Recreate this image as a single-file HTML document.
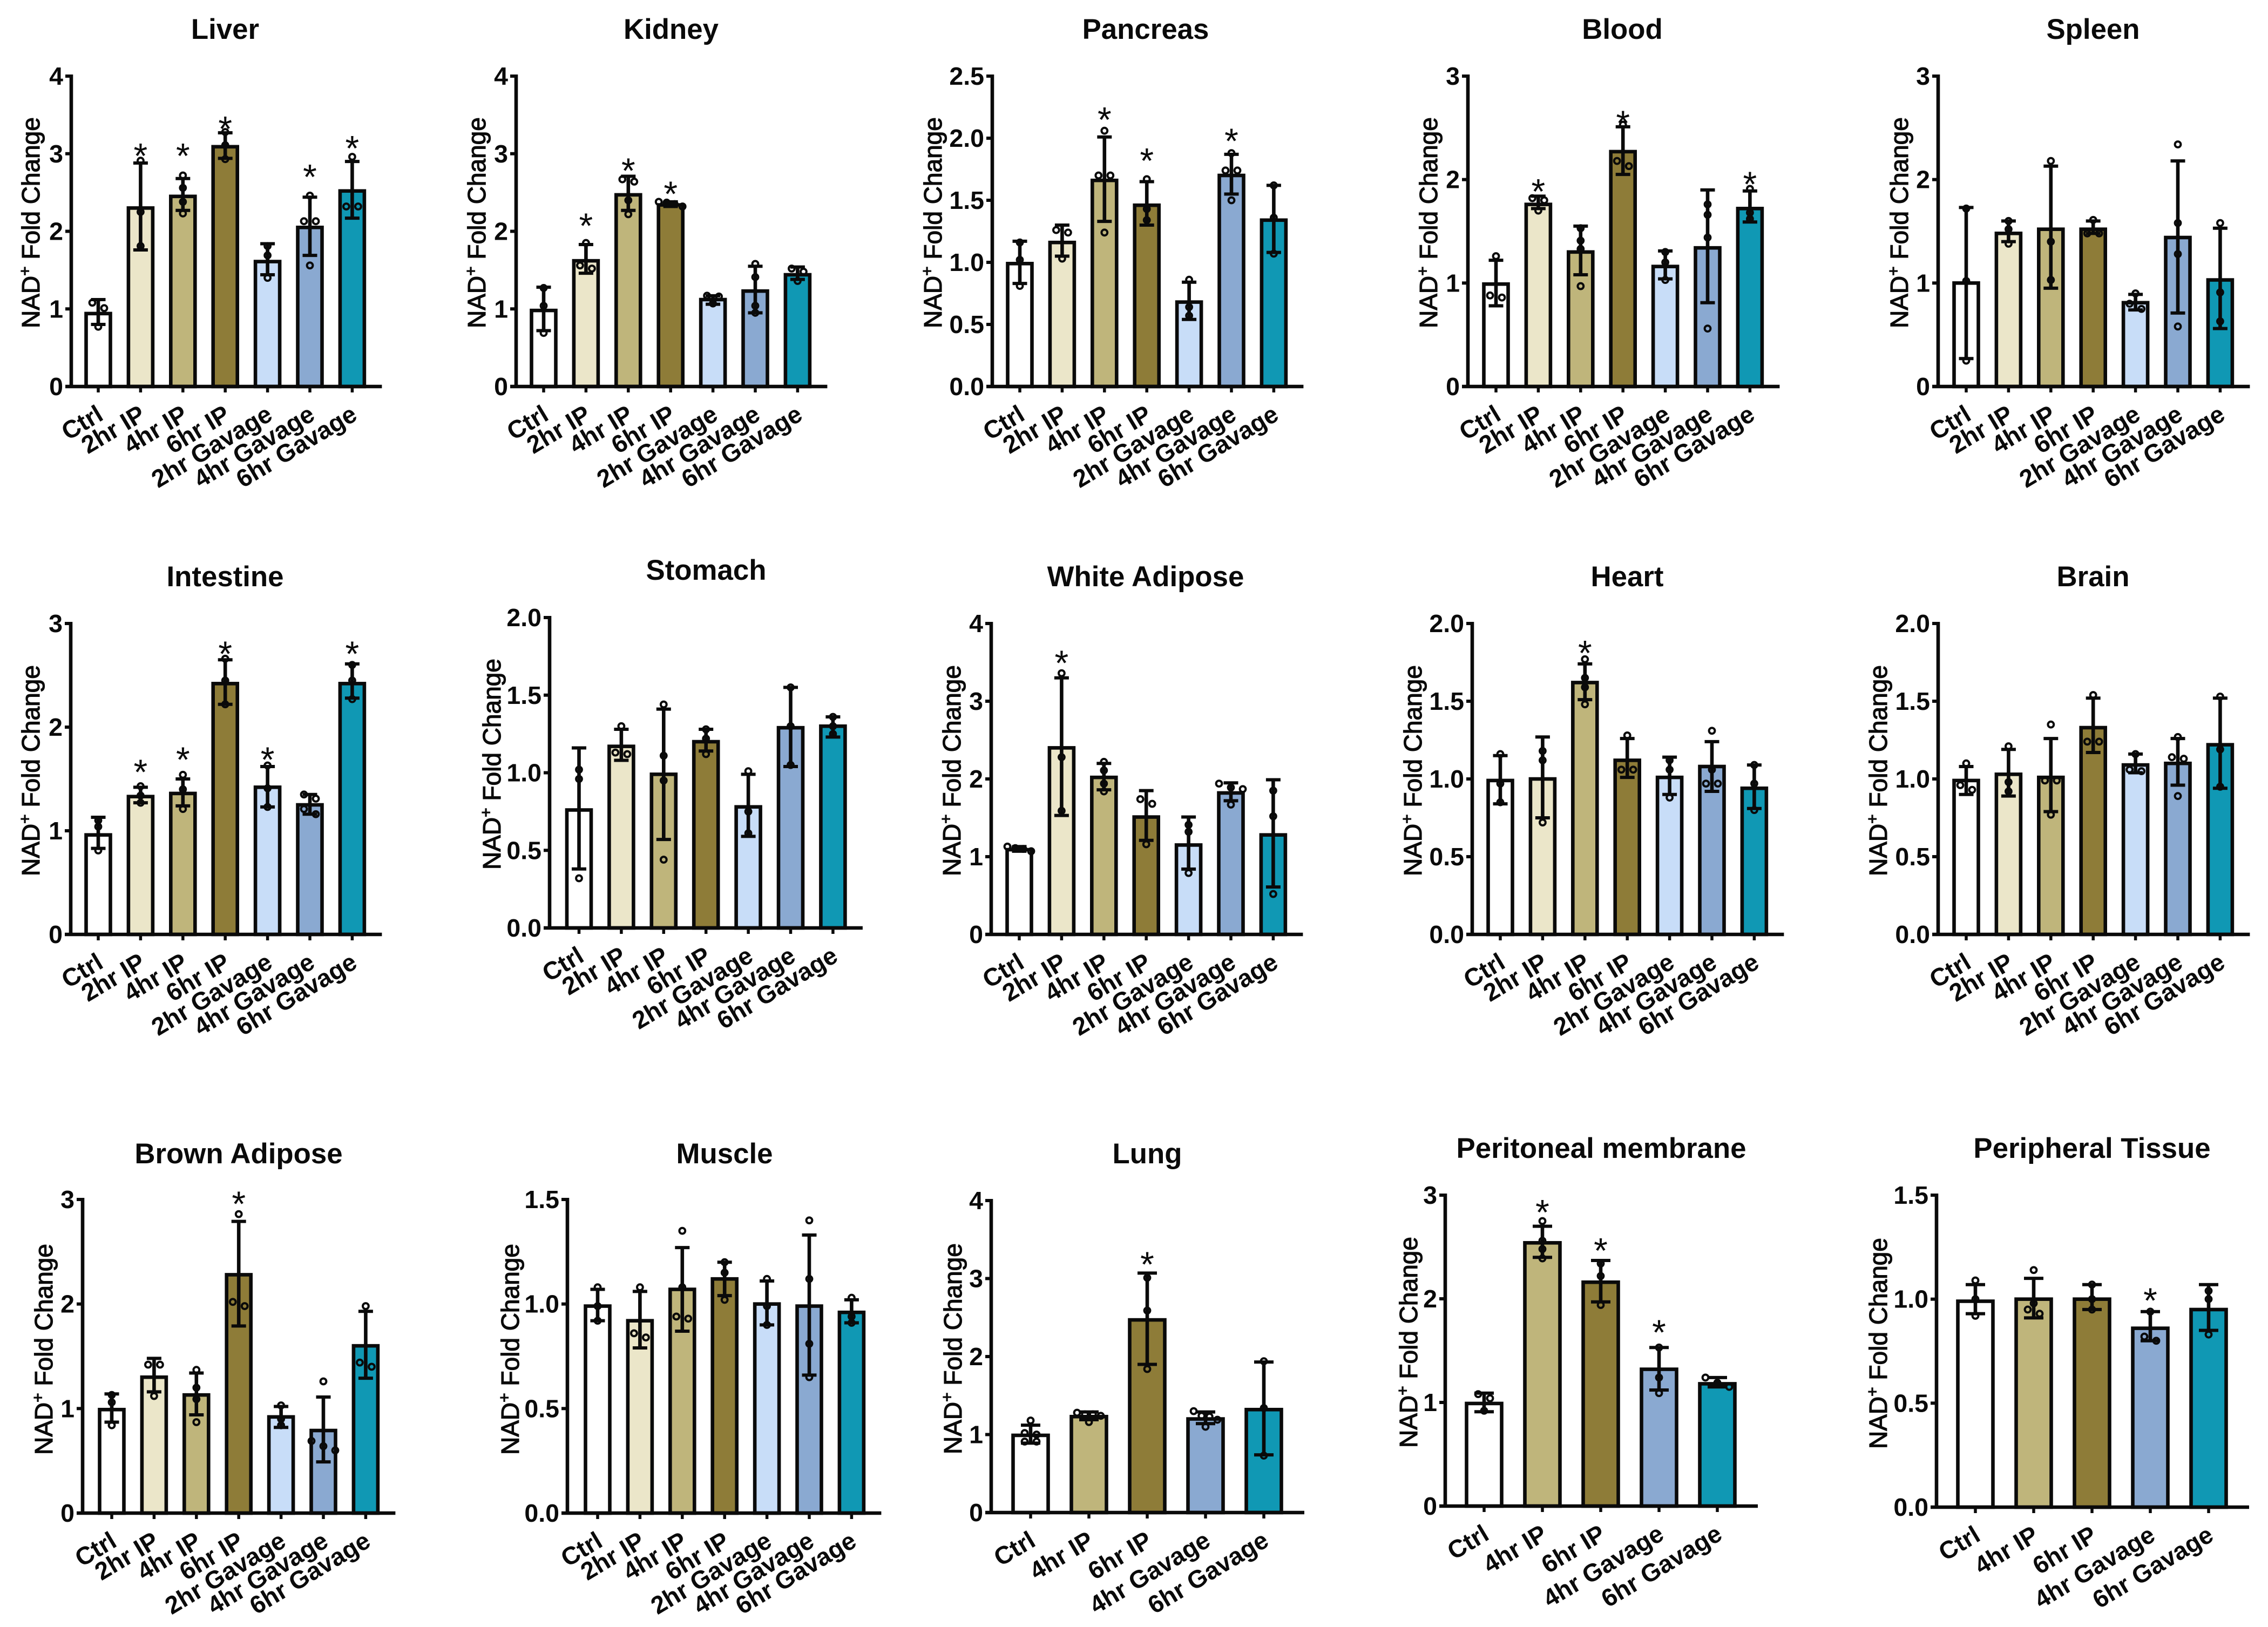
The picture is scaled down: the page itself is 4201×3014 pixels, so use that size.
<!DOCTYPE html>
<html lang="en">
<head>
<meta charset="utf-8">
<title>NAD+ Fold Change by Tissue</title>
<style>
html,body{margin:0;padding:0;background:#fff}
svg{display:block}
text{font-family:"Liberation Sans",Arial,sans-serif;fill:#0a0a0a}
</style>
</head>
<body>
<svg id="figure" xmlns="http://www.w3.org/2000/svg" width="4201" height="3014" viewBox="0 0 4201 3014"></svg>
<script>
// Categories and tick labels
const categoriesSeven = ['Ctrl','2hr IP','4hr IP','6hr IP','2hr Gavage','4hr Gavage','6hr Gavage'];
const categoriesFive = ['Ctrl','4hr IP','6hr IP','4hr Gavage','6hr Gavage'];
const ticksTo4 = ['0','1','2','3','4'];
const ticksTo3 = ['0','1','2','3'];
const ticksTo25 = ['0.0','0.5','1.0','1.5','2.0','2.5'];
const ticksTo2 = ['0.0','0.5','1.0','1.5','2.0'];
const ticksTo15 = ['0.0','0.5','1.0','1.5'];

// Liver
const liverMeans = [0.94,2.30,2.45,3.09,1.61,2.05,2.52];
const liverUpper = [1.12,2.88,2.68,3.27,1.84,2.44,2.90];
const liverLower = [0.80,1.76,2.27,2.94,1.44,1.69,2.17];
const liverPoints = [[1.08,1.01,0.77],[2.91,2.25,1.81],[2.72,2.56,2.38,2.23],[3.28,3.11,2.93],[1.81,1.69,1.40],[2.46,2.13,2.13,1.56],[2.96,2.32,2.32]];
const liverStars = [null,3.07,3.07,3.42,null,2.80,3.17];
// Kidney
const kidneyMeans = [0.98,1.62,2.47,2.34,1.12,1.23,1.44];
const kidneyUpper = [1.28,1.83,2.71,2.38,1.17,1.55,1.54];
const kidneyLower = [0.72,1.46,2.27,2.32,1.06,0.95,1.38];
const kidneyPoints = [[1.27,1.04,0.69],[1.85,1.56,1.52],[2.67,2.64,2.40,2.22],[2.38,2.37,2.35,2.32],[1.17,1.16,1.07],[1.58,1.41,1.04,0.95],[1.52,1.48,1.36]];
const kidneyStars = [null,2.17,2.88,2.58,null,null,null];
// Pancreas
const pancreasMeans = [0.99,1.16,1.66,1.46,0.68,1.70,1.34];
const pancreasUpper = [1.17,1.30,2.01,1.65,0.84,1.87,1.62];
const pancreasLower = [0.83,1.05,1.33,1.30,0.54,1.55,1.08];
const pancreasPoints = [[1.16,1.02,0.81],[1.26,1.24,1.03],[2.06,1.70,1.70,1.24],[1.67,1.43,1.34],[0.86,0.64,0.57],[1.88,1.74,1.74,1.50],[1.62,1.36,1.07]];
const pancreasStars = [null,null,2.21,1.88,null,2.04,null];
// Blood
const bloodMeans = [0.99,1.76,1.30,2.27,1.16,1.34,1.72];
const bloodUpper = [1.22,1.84,1.55,2.51,1.31,1.90,1.89];
const bloodLower = [0.78,1.72,1.08,2.05,1.04,0.81,1.59];
const bloodPoints = [[1.26,0.88,0.86],[1.82,1.80,1.70],[1.53,1.41,1.33,0.97],[2.53,2.18,2.13],[1.30,1.20,1.03],[1.76,1.66,1.44,0.56],[1.91,1.68,1.62]];
const bloodStars = [null,1.96,null,2.62,null,null,2.03];
// Spleen
const spleenMeans = [1.00,1.48,1.52,1.52,0.81,1.44,1.03];
const spleenUpper = [1.73,1.60,2.13,1.60,0.89,2.18,1.53];
const spleenLower = [0.27,1.40,0.95,1.48,0.74,0.71,0.56];
const spleenPoints = [[1.72,1.02,0.25],[1.60,1.52,1.38],[2.18,1.40,1.03],[1.61,1.48,1.48],[0.90,0.80,0.75],[2.34,1.58,1.28,0.58],[1.58,0.91,0.63]];
const spleenStars = [null,null,null,null,null,null,null];
// Intestine
const intestineMeans = [0.96,1.33,1.36,2.42,1.42,1.25,2.42];
const intestineUpper = [1.13,1.42,1.50,2.65,1.62,1.35,2.61];
const intestineLower = [0.83,1.27,1.24,2.22,1.23,1.16,2.28];
const intestinePoints = [[1.10,1.04,0.81],[1.43,1.34,1.27],[1.54,1.40,1.21],[2.66,2.45,2.22],[1.63,1.41,1.23],[1.35,1.31,1.21,1.16],[2.60,2.45,2.27]];
const intestineStars = [null,1.64,1.76,2.78,1.76,null,2.78];
// Stomach
const stomachMeans = [0.76,1.17,0.99,1.20,0.78,1.29,1.30];
const stomachUpper = [1.16,1.28,1.41,1.28,0.99,1.55,1.36];
const stomachLower = [0.38,1.08,0.57,1.14,0.59,1.04,1.23];
const stomachPoints = [[1.02,0.96,0.32],[1.30,1.13,1.12],[1.44,1.11,0.95,0.44],[1.28,1.22,1.12],[1.01,0.75,0.61],[1.55,1.30,1.05],[1.36,1.30,1.25]];
const stomachStars = [null,null,null,null,null,null,null];
// White Adipose
const whiteMeans = [1.09,2.40,2.02,1.51,1.15,1.82,1.28];
const whiteUpper = [1.13,3.30,2.20,1.85,1.51,1.95,1.99];
const whiteLower = [1.07,1.53,1.86,1.21,0.84,1.72,0.61];
const whitePoints = [[1.13,1.11,1.10,1.07],[3.36,2.28,1.59],[2.22,2.11,1.94,1.84],[1.74,1.68,1.16],[1.41,1.32,0.79],[1.94,1.89,1.87,1.67],[1.85,1.52,0.52]];
const whiteStars = [null,3.59,null,null,null,null,null];
// Heart
const heartMeans = [0.99,1.00,1.62,1.12,1.01,1.08,0.94];
const heartUpper = [1.15,1.27,1.74,1.26,1.14,1.24,1.09];
const heartLower = [0.84,0.75,1.51,1.01,0.90,0.92,0.81];
const heartPoints = [[1.16,0.97,0.85],[1.18,1.12,0.72],[1.77,1.65,1.59,1.48],[1.28,1.06,1.06],[1.12,1.06,0.88],[1.31,1.06,0.97,0.97],[1.09,0.97,0.80]];
const heartStars = [null,null,1.86,null,null,null,null];
// Brain
const brainMeans = [0.99,1.03,1.01,1.33,1.09,1.10,1.22];
const brainUpper = [1.08,1.19,1.26,1.52,1.16,1.26,1.52];
const brainLower = [0.90,0.89,0.79,1.17,1.04,0.96,0.94];
const brainPoints = [[1.10,0.96,0.93],[1.21,0.98,0.92],[1.35,0.99,0.99,0.77],[1.54,1.24,1.24],[1.16,1.06,1.05],[1.27,1.14,1.13,0.89],[1.53,1.19,0.95]];
const brainStars = [null,null,null,null,null,null,null];
// Brown Adipose
const brownMeans = [0.99,1.30,1.13,2.28,0.92,0.79,1.60];
const brownUpper = [1.14,1.48,1.34,2.79,1.02,1.11,1.93];
const brownLower = [0.87,1.16,0.94,1.79,0.82,0.49,1.29];
const brownPoints = [[1.13,1.06,0.84],[1.42,1.42,1.12],[1.37,1.20,1.09,0.87],[2.86,2.02,1.98],[1.03,0.90,0.84],[1.26,0.69,0.64,0.60],[1.98,1.44,1.40]];
const brownStars = [null,null,null,3.03,null,null,null];
// Muscle
const muscleMeans = [0.99,0.92,1.07,1.12,1.00,0.99,0.96];
const muscleUpper = [1.07,1.06,1.27,1.20,1.11,1.33,1.02];
const muscleLower = [0.92,0.79,0.87,1.04,0.90,0.66,0.91];
const musclePoints = [[1.08,0.99,0.92],[1.08,0.86,0.84],[1.35,1.08,0.94,0.93],[1.20,1.15,1.02],[1.12,0.99,0.90],[1.40,1.12,0.81,0.65],[1.03,0.94,0.91]];
const muscleStars = [null,null,null,null,null,null,null];
// Lung
const lungMeans = [0.99,1.23,2.47,1.20,1.32];
const lungUpper = [1.12,1.29,3.07,1.29,1.93];
const lungLower = [0.89,1.19,1.90,1.14,0.74];
const lungPoints = [[1.18,1.02,1.00,0.91,0.91],[1.28,1.26,1.26,1.24,1.16],[3.01,2.59,1.84],[1.30,1.24,1.23,1.19,1.10],[1.94,1.34,0.73]];
const lungStars = [null,null,3.28,null,null];
// Peritoneal membrane
const peritonealMeans = [0.99,2.54,2.16,1.32,1.18];
const peritonealUpper = [1.09,2.70,2.37,1.53,1.24];
const peritonealLower = [0.91,2.40,1.97,1.12,1.15];
const peritonealPoints = [[1.08,1.04,0.92],[2.75,2.56,2.48,2.39],[2.34,2.22,1.94],[1.53,1.24,1.09],[1.24,1.19,1.15]];
const peritonealStars = [null,2.91,2.54,1.75,null];
// Peripheral Tissue
const peripheralMeans = [0.99,1.00,1.00,0.86,0.95];
const peripheralUpper = [1.07,1.10,1.07,0.94,1.07];
const peripheralLower = [0.93,0.91,0.95,0.80,0.85];
const peripheralPoints = [[1.09,1.00,0.92],[1.14,0.98,0.95,0.93],[1.07,1.00,0.95],[0.94,0.82,0.80],[1.04,1.00,0.83]];
const peripheralStars = [null,null,null,1.03,null];

const colorByCategory = {'Ctrl':'#ffffff','2hr IP':'#ebe6c9','4hr IP':'#bfb57b','6hr IP':'#8e7c38','2hr Gavage':'#c8ddf8','4hr Gavage':'#8aa9d1','6hr Gavage':'#1098b4'};

const panels = [
 {title:'Liver',titleX:417,titleY:72,axisX:132,first:182,top:141,base:716,labelX:73,cats:categoriesSeven,ticks:ticksTo4,means:liverMeans,upper:liverUpper,lower:liverLower,points:liverPoints,stars:liverStars},
 {title:'Kidney',titleX:1243,titleY:72,axisX:956,first:1007,top:141,base:716,labelX:899,cats:categoriesSeven,ticks:ticksTo4,means:kidneyMeans,upper:kidneyUpper,lower:kidneyLower,points:kidneyPoints,stars:kidneyStars},
 {title:'Pancreas',titleX:2122,titleY:72,axisX:1838,first:1889,top:141,base:716,labelX:1744,cats:categoriesSeven,ticks:ticksTo25,means:pancreasMeans,upper:pancreasUpper,lower:pancreasLower,points:pancreasPoints,stars:pancreasStars},
 {title:'Blood',titleX:3005,titleY:72,axisX:2719,first:2771,top:141,base:716,labelX:2662,cats:categoriesSeven,ticks:ticksTo3,means:bloodMeans,upper:bloodUpper,lower:bloodLower,points:bloodPoints,stars:bloodStars},
 {title:'Spleen',titleX:3877,titleY:72,axisX:3590,first:3642,top:141,base:716,labelX:3534,cats:categoriesSeven,ticks:ticksTo3,means:spleenMeans,upper:spleenUpper,lower:spleenLower,points:spleenPoints,stars:spleenStars},
 {title:'Intestine',titleX:417,titleY:1086,axisX:131,first:182,top:1155,base:1731,labelX:73,cats:categoriesSeven,ticks:ticksTo3,means:intestineMeans,upper:intestineUpper,lower:intestineLower,points:intestinePoints,stars:intestineStars},
 {title:'Stomach',titleX:1308,titleY:1074,axisX:1018,first:1072.5,top:1144,base:1719,labelX:927,cats:categoriesSeven,ticks:ticksTo2,means:stomachMeans,upper:stomachUpper,lower:stomachLower,points:stomachPoints,stars:stomachStars},
 {title:'White Adipose',titleX:2122,titleY:1086,axisX:1836,first:1888,top:1155,base:1731,labelX:1779,cats:categoriesSeven,ticks:ticksTo4,means:whiteMeans,upper:whiteUpper,lower:whiteLower,points:whitePoints,stars:whiteStars},
 {title:'Heart',titleX:3014,titleY:1086,axisX:2727,first:2779,top:1155,base:1731,labelX:2633,cats:categoriesSeven,ticks:ticksTo2,means:heartMeans,upper:heartUpper,lower:heartLower,points:heartPoints,stars:heartStars},
 {title:'Brain',titleX:3877,titleY:1086,axisX:3590,first:3642,top:1155,base:1731,labelX:3495,cats:categoriesSeven,ticks:ticksTo2,means:brainMeans,upper:brainUpper,lower:brainLower,points:brainPoints,stars:brainStars},
 {title:'Brown Adipose',titleX:442,titleY:2155,axisX:153,first:207,top:2222,base:2803,labelX:97,cats:categoriesSeven,ticks:ticksTo3,means:brownMeans,upper:brownUpper,lower:brownLower,points:brownPoints,stars:brownStars},
 {title:'Muscle',titleX:1342,titleY:2155,axisX:1051,first:1107,top:2222,base:2803,labelX:961,cats:categoriesSeven,ticks:ticksTo15,means:muscleMeans,upper:muscleUpper,lower:muscleLower,points:musclePoints,stars:muscleStars},
 {title:'Lung',titleX:2125,titleY:2155,axisX:1836,first:1909,top:2224,base:2802,labelX:1781,cats:categoriesFive,ticks:ticksTo4,means:lungMeans,upper:lungUpper,lower:lungLower,points:lungPoints,stars:lungStars},
 {title:'Peritoneal membrane',titleX:2966,titleY:2145,axisX:2677,first:2749,top:2214,base:2790,labelX:2625,cats:categoriesFive,ticks:ticksTo3,means:peritonealMeans,upper:peritonealUpper,lower:peritonealLower,points:peritonealPoints,stars:peritonealStars},
 {title:'Peripheral Tissue',titleX:3875,titleY:2145,axisX:3587,first:3659,top:2214,base:2792,labelX:3495,cats:categoriesFive,ticks:ticksTo15,means:peripheralMeans,upper:peripheralUpper,lower:peripheralLower,points:peripheralPoints,stars:peripheralStars}
];

const NS = 'http://www.w3.org/2000/svg';
const INK = '#0a0a0a';
const root = document.getElementById('figure');

function mk(parent, tag, attrs, text) {
  const el = document.createElementNS(NS, tag);
  for (const k in attrs) el.setAttribute(k, attrs[k]);
  if (text !== undefined) el.textContent = text;
  parent.appendChild(el);
  return el;
}
function slug(s) { return s.toLowerCase().replace(/[^a-z0-9]+/g, '-'); }

// Spread points that would overlap horizontally, as a swarm plot does
function swarm(ys) {
  const order = ys.map((y, i) => i).sort((a, b) => ys[a] - ys[b]);
  const offsets = ys.map(() => 0);
  let group = [];
  const flush = () => {
    const n = group.length;
    if (n > 1) {
      const gap = Math.min(22, 44 / (n - 1));
      group.forEach((idx, j) => { offsets[idx] = (j - (n - 1) / 2) * gap; });
    }
    group = [];
  };
  order.forEach((idx, j) => {
    if (j > 0 && ys[idx] - ys[order[j - 1]] > 11) flush();
    group.push(idx);
  });
  flush();
  return offsets;
}

panels.forEach(p => {
  const key = slug(p.title);
  const five = p.cats.length === 5;
  const step = five ? 108 : 78.4;
  const barWidth = five ? 65 : 45;
  const capWidth = five ? 36 : 27;
  const pad = five ? 75 : 55;
  const yMax = parseFloat(p.ticks[p.ticks.length - 1]);
  const yScale = v => p.base - (v / yMax) * (p.base - p.top);
  const xScale = i => p.first + i * step;

  const g = mk(root, 'g', {});
  
  

  const title = mk(g, 'text', {x:p.titleX, y:p.titleY, 'text-anchor':'middle', 'font-size':52.8, 'font-weight':'bold'}, p.title);
  
  

  const yTitle = mk(g, 'text', {transform:'translate(' + p.labelX + ',' + (p.base - 108) + ') rotate(-90)', 'font-size':46, stroke:INK, 'stroke-width':1.2});
  
  
  mk(yTitle, 'tspan', {}, 'NAD');
  mk(yTitle, 'tspan', {dy:-17, 'font-size':30}, '+');
  mk(yTitle, 'tspan', {dy:17}, ' Fold Change');

  p.means.forEach((m, i) => {
    const cx = xScale(i);
    const cat = p.cats[i];
    const bar = mk(g, 'rect', {x:cx - barWidth / 2, y:yScale(m), width:barWidth, height:p.base - yScale(m), fill:colorByCategory[cat], stroke:INK, 'stroke-width':6.6});
    
    

    const ys = p.points[i].map(yScale);
    const offs = swarm(ys);
    ys.forEach((y, j) => {
      const pt = mk(g, 'circle', {cx:cx + offs[j], cy:y, r:5.4, fill:'none', stroke:INK, 'stroke-width':4});
      
      
    });

    const stem = mk(g, 'line', {x1:cx, x2:cx, y1:yScale(p.upper[i]), y2:yScale(p.lower[i]), stroke:INK, 'stroke-width':6.6});
    
    
    [p.upper[i], p.lower[i]].forEach(v => {
      const cap = mk(g, 'line', {x1:cx - capWidth / 2, x2:cx + capWidth / 2, y1:yScale(v), y2:yScale(v), stroke:INK, 'stroke-width':6});
      
      
    });

    if (p.stars[i] !== null) {
      const star = mk(g, 'text', {x:cx, y:yScale(p.stars[i]) + 37, 'text-anchor':'middle', 'font-size':66}, '*');
      
      
    }

    const tick = mk(g, 'line', {x1:cx, x2:cx, y1:p.base, y2:p.base + 11, stroke:INK, 'stroke-width':5.5});
    
    

    const label = mk(g, 'text', {transform:'translate(' + (cx + 12) + ',' + (p.base + 60) + ') rotate(-31)', 'text-anchor':'end', 'font-size':46, 'font-weight':'bold'}, cat);
    
    
  });

  p.ticks.forEach(t => {
    const y = yScale(parseFloat(t));
    const tick = mk(g, 'line', {x1:p.axisX - 11, x2:p.axisX, y1:y, y2:y, stroke:INK, 'stroke-width':6});
    
    
    const label = mk(g, 'text', {x:p.axisX - 15, y:y + 16, 'text-anchor':'end', 'font-size':46.5, 'font-weight':'bold'}, t);
    
    
  });

  const yAxis = mk(g, 'line', {x1:p.axisX, x2:p.axisX, y1:p.top - 3, y2:p.base + 3, stroke:INK, 'stroke-width':6.6});
  
  

  const xAxis = mk(g, 'line', {x1:p.axisX - 11, x2:xScale(p.cats.length - 1) + pad, y1:p.base, y2:p.base, stroke:INK, 'stroke-width':6.6});
  
  
});
</script>
</body>
</html>
